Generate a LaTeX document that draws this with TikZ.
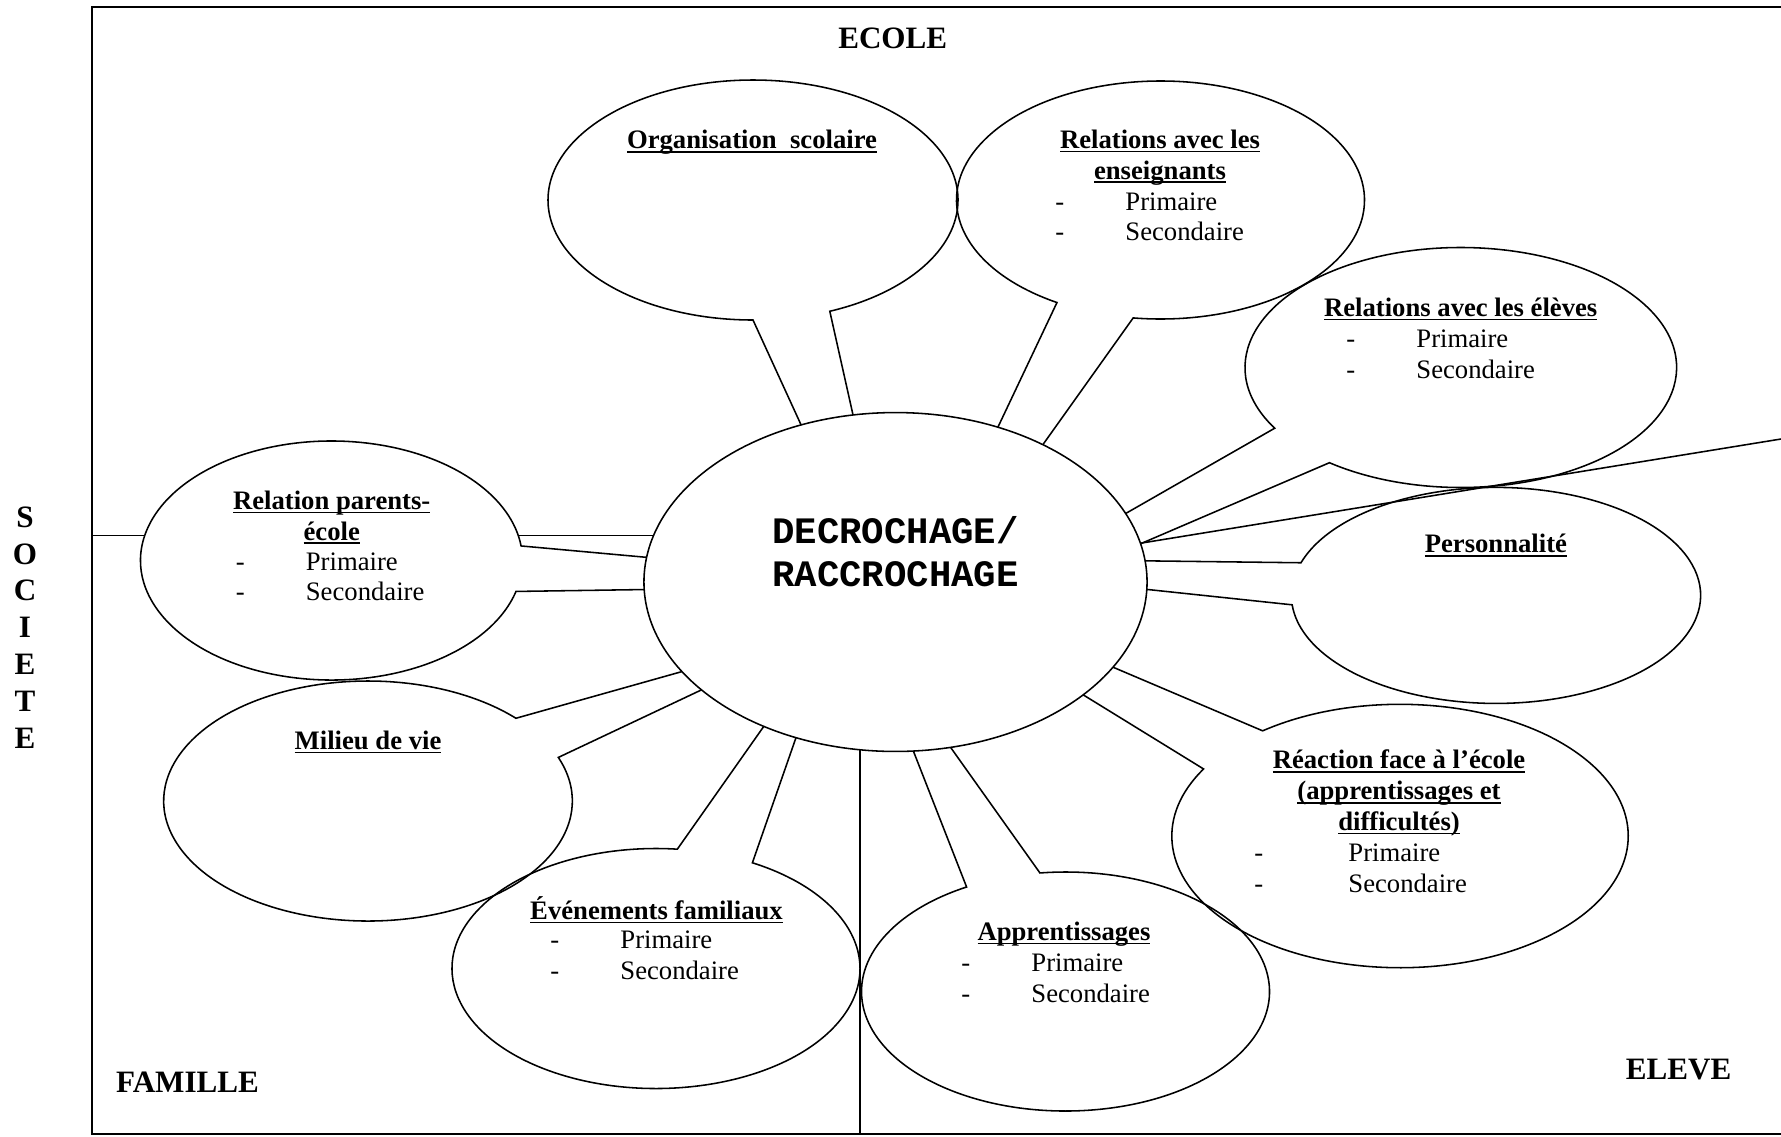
\documentclass[tikz,border=0pt]{standalone}
\usepackage{fontspec}
\setmainfont{Liberation Serif}
\newfontfamily\decfont{Liberation Mono}
\usepackage{tikz}
\usetikzlibrary{calc,shapes.geometric}

\newcommand{\uln}[1]{\setbox0\hbox{#1}\rlap{\rule[-1.8pt]{\wd0}{0.75pt}}\box0}
\newcommand{\itm}[2][31.5pt]{\makebox[#1][l]{-}#2}
% bulle : centre, rayons, angles de l'arc, pointe
\newcommand{\bulle}[7][draw]{\path[#1] ($(#2)+(#5:#3 and #4)$) arc[start angle=#5, end angle=#6, x radius=#3, y radius=#4] -- (#7) -- cycle;}

\tikzset{
  trait/.style={line width=0.7pt},
  ttl/.style={font=\fontsize{12}{13.8}\selectfont\bfseries, align=center, inner sep=0pt},
  lst/.style={font=\fontsize{12}{13.8}\selectfont, align=left, anchor=west, inner sep=0pt},
  zone/.style={font=\fontsize{14}{16.6}\selectfont\bfseries, inner sep=0pt},
  hub/.style={ellipse, draw, fill=white, line width=0.7pt, minimum width=226.4pt, minimum height=152.5pt, inner sep=0pt},
  hubtext/.style={font=\decfont\fontsize{16.8}{19.4}\selectfont\bfseries, align=left, inner sep=0pt},
}

\begin{document}
\begin{tikzpicture}[x=0.45pt,y=-0.45pt]
\useasboundingbox (0,0) rectangle (1781,1136);
\clip (0,0) rectangle (1781,1136);
\coordinate (c0) at (895.5,582);
%cadre
\draw[trait] (1781,7) -- (92,7) -- (92,1134) -- (1781,1134);
\coordinate (socw) at (92,535.7);
\coordinate (famb) at (860,1134);
\coordinate (elvr) at (1781,439);
\coordinate (elvi) at (1100,549.8);
\draw[trait] (socw) -- (socw -| c0);
\draw[trait] (famb) -- (famb |- c0);
%centres et pointes
\coordinate (org) at (753,200);     \coordinate (porg) at (907,656);
\coordinate (ens) at (1160.5,200);  \coordinate (pens) at (884,667.6);
\coordinate (elv) at (1460.8,367.5);\coordinate (pelv) at (869.4,660.1);
\coordinate (per) at (1496,595.4);  \coordinate (pper) at (842.2,557.1);
\coordinate (rea) at (1400,836);    \coordinate (prea) at (871.5,564.5);
\coordinate (app) at (1065.5,991.5);\coordinate (papp) at (864.6,626.5);
\coordinate (evt) at (656,968.5);   \coordinate (pevt) at (835.3,624.8);
\coordinate (mil) at (368,801);     \coordinate (pmil) at (826.2,631);
\coordinate (par) at (331.5,560.5); \coordinate (ppar) at (951.6,585);
%bulles
\bulle[fill=white]{org}{205}{120}{90}{428}{porg}
\bulle[fill=white]{ens}{204}{119}{120.5}{457.7}{pens}
\bulle[fill=white]{elv}{215.8}{120}{149.6}{487.5}{pelv}
\bulle[fill=white]{per}{204.6}{108}{197.6}{535}{pper}
\bulle[fill=white]{rea}{228.2}{131.7}{233}{570.6}{prea}
\bulle[fill=white]{app}{204}{119.5}{262.8}{601}{papp}
\bulle[fill=white]{evt}{204}{120}{298.2}{636}{pevt}
\bulle[fill=white]{mil}{204.3}{120}{338.7}{676.4}{pmil}
\bulle[fill=white]{par}{191}{119.5}{15}{353}{ppar}
\bulle[draw,trait]{org}{205}{120}{90}{428}{porg}
\bulle[draw,trait]{ens}{204}{119}{120.5}{457.7}{pens}
\bulle[draw,trait]{elv}{215.8}{120}{149.6}{487.5}{pelv}
\bulle[draw,trait]{per}{204.6}{108}{197.6}{535}{pper}
\bulle[draw,trait]{rea}{228.2}{131.7}{233}{570.6}{prea}
\bulle[draw,trait]{app}{204}{119.5}{262.8}{601}{papp}
\bulle[draw,trait]{evt}{204}{120}{298.2}{636}{pevt}
\bulle[draw,trait]{mil}{204.3}{120}{338.7}{676.4}{pmil}
\bulle[draw,trait]{par}{191}{119.5}{15}{353}{ppar}
\draw[trait] (elvr) -- (elvi);
\node[hub] (dec) at (c0) {};
%texte
\node[hubtext] (dect) at (895.5,552) {DECROCHAGE/\\RACCROCHAGE};
\node[zone] (ecole) at (892.7,38.5) {ECOLE};
\node[zone] (famille) at (187.5,1082.4) {FAMILLE};
\node[zone] (eleve) at (1678.5,1070) {ELEVE};
\node[zone, align=center] (societe) at (25,627.5) {S\\O\\C\\I\\E\\T\\E};
\node[ttl] (orgt) at (752,142.5) {\uln{Organisation\ \ scolaire}};
\node[ttl] (enst) at (1160,157.5) {\uln{Relations avec les}\\\uln{enseignants}};
\node[lst] (ensl) at (1055,216.8) {\itm{Primaire}\\\itm{Secondaire}};
\node[ttl] (elvt) at (1460.7,309.2) {\uln{Relations avec les élèves}};
\node[lst] (elvl) at (1346,354.1) {\itm{Primaire}\\\itm{Secondaire}};
\node[ttl] (pert) at (1495.9,545.5) {\uln{Personnalité}};
\node[ttl] (reat) at (1399,793) {\uln{Réaction face à l’école}\\\uln{(apprentissages et}\\\uln{difficultés)}};
\node[lst] (real) at (1254,868.6) {\itm[42.3pt]{Primaire}\\\itm[42.3pt]{Secondaire}};
\node[ttl] (appt) at (1064,933.9) {\uln{Apprentissages}};
\node[lst] (appl) at (961,978.5) {\itm{Primaire}\\\itm{Secondaire}};
\node[ttl] (evtt) at (656.5,910) {\uln{Événements familiaux}};
\node[lst] (evtl) at (550,955) {\itm{Primaire}\\\itm{Secondaire}};
\node[ttl] (milt) at (368,741.9) {\uln{Milieu de vie}};
\node[ttl] (part) at (331.7,517.5) {\uln{Relation parents-}\\\uln{école}};
\node[lst] (parl) at (235.5,576.8) {\itm{Primaire}\\\itm{Secondaire}};
\end{tikzpicture}
\end{document}
